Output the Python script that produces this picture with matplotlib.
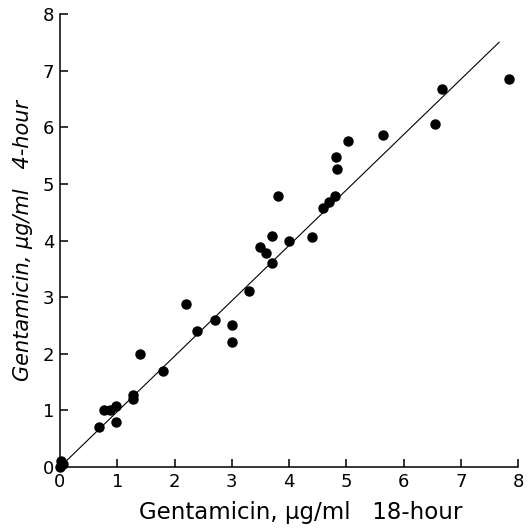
import matplotlib

matplotlib.use("Agg")
import matplotlib.pyplot as plt
import numpy as np

# gentamicin levels, 18-hour (x) vs 4-hour (y), ug/ml
x_18h = [0.0, 0.05, 0.02, 0.68, 0.76, 0.87, 0.97, 0.98, 1.27, 1.27, 1.4, 1.8,
         2.2, 2.4, 2.7, 3.0, 3.0, 3.3, 3.5, 3.6, 3.7, 3.7, 3.8, 4.0, 4.4,
         4.6, 4.7, 4.8, 4.83, 4.82, 5.03, 5.65, 6.55, 6.68, 7.85]
y_4h = [0.0, 0.05, 0.1, 0.70, 1.0, 1.0, 1.08, 0.8, 1.28, 1.2, 2.0, 1.7,
        2.88, 2.4, 2.6, 2.5, 2.2, 3.1, 3.88, 3.78, 3.6, 4.08, 4.78, 4.0, 4.07,
        4.57, 4.68, 4.78, 5.27, 5.47, 5.75, 5.87, 6.05, 6.67, 6.85]

# fitted line
FIT_SLOPE = 0.978
FIT_INTERCEPT = 0.0
FIT_XRANGE = [0.0, 7.67]

TICKS = [0, 1, 2, 3, 4, 5, 6, 7, 8]

fig = plt.figure(figsize=(5.3, 5.28), dpi=100)
ax = fig.add_axes([0.1132, 0.1155, 0.8642, 0.858])

fx = np.array(FIT_XRANGE)
ax.plot(fx, FIT_SLOPE * fx + FIT_INTERCEPT, color="black", lw=0.8)
ax.plot(x_18h, y_4h, "o", color="black", ms=6.5, clip_on=False, zorder=3)

ax.set_xlim(0, 8)
ax.set_ylim(0, 8)
ax.set_xticks(TICKS)
ax.set_yticks(TICKS)
ax.spines["top"].set_visible(False)
ax.spines["right"].set_visible(False)
for s in ("left", "bottom"):
    ax.spines[s].set_linewidth(1.1)
ax.tick_params(direction="in", length=6, width=1.1, labelsize=13, pad=4)

ax.set_xlabel("Gentamicin, μg/ml   18-hour", fontsize=16.5)
ax.xaxis.set_label_coords(0.526, -0.075)
ax.set_ylabel("Gentamicin, μg/ml   4-hour", fontsize=15, style="italic", labelpad=7)

fig.savefig("out.png", dpi=100, facecolor="white")
